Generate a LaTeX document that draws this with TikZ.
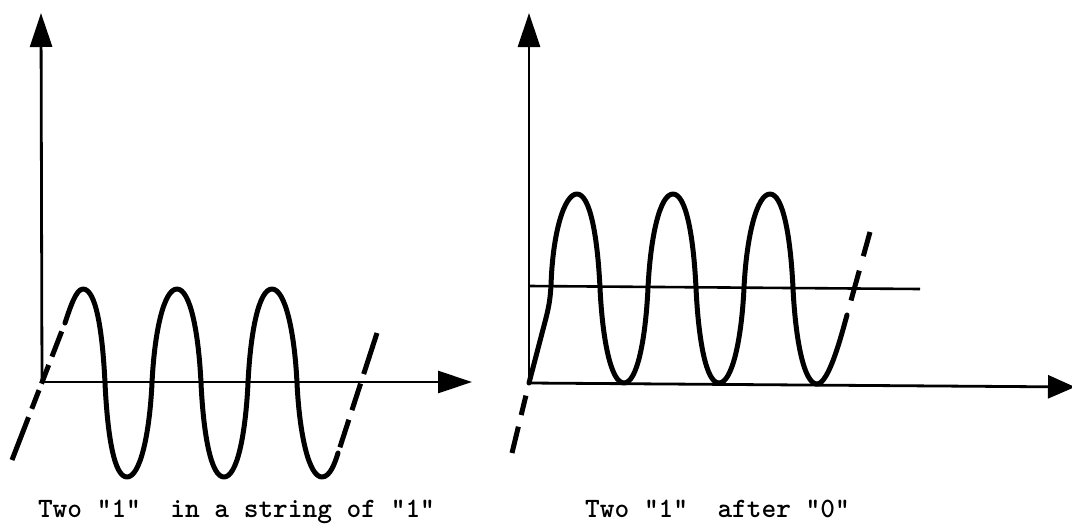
\documentclass[tikz,border=0pt]{standalone}
\usetikzlibrary{arrows.meta}
\begin{document}
\begin{tikzpicture}[x=1pt,y=-1pt,
  axis/.style={line width=2.8pt,-{Triangle[length=34pt,width=22pt]}},
  axisr/.style={line width=2.8pt,-{Triangle[length=27pt,width=23pt]}},
  plain/.style={line width=2.6pt},
  wave/.style={line width=5pt,line cap=round,line join=round},
  ext/.style={line width=5pt},
  lbl/.style={font=\fontsize{28}{30}\selectfont\ttfamily\bfseries,anchor=base,inner sep=0pt}]
\clip (0,0) rectangle (1072,528);
\fill[white] (0,0) rectangle (1072,528);
% ---------- left panel ----------
\coordinate (O1) at (42,382);
\coordinate (Y1) at (41,13);
\coordinate (X1) at (472,382);
\draw[axis] (O1) -- (Y1);
\draw[axis] (O1) -- (X1);
\draw[wave] (65,323) .. controls (70,308) and (76,289) .. (83,289)
  .. controls +(13,0) and +(-2.5,-52) .. (105,383)
  .. controls +(2.5,52) and +(-13,0) .. (127,477)
  .. controls +(13,0) and +(-2.5,52) .. (152,383)
  .. controls +(2.5,-52) and +(-13,0) .. (177,289)
  .. controls +(13,0) and +(-2.5,-52) .. (201,383)
  .. controls +(2.5,52) and +(-13,0) .. (224,477)
  .. controls +(13,0) and +(-2.5,52) .. (248,383)
  .. controls +(2.5,-52) and +(-13,0) .. (272,289)
  .. controls +(13,0) and +(-2.5,-52) .. (297,383)
  .. controls +(2.5,52) and +(-13,0) .. (322,477)
  .. controls +(8,0) and +(-3,10) .. (338,453);
\draw[ext,dash pattern=on 27pt off 9pt on 20pt off 7pt on 20pt off 9pt on 80pt off 9pt]
  (61.7,331.4) -- (12,460);
\draw[ext,dash pattern=on 29pt off 10pt on 28pt off 10pt on 60pt off 10pt]
  (339.9,447.3) -- (377,333);
\node[lbl] (t1) at (236.5,517) {Two "1"\ \ in a string of "1"};
% ---------- right panel ----------
\coordinate (O2) at (529,383);
\coordinate (Y2) at (529,13);
\coordinate (X2) at (1075,387);
\coordinate (M1) at (529,286);
\coordinate (M2) at (920,289);
\draw[axis] (O2) -- (Y2);
\draw[axisr] (O2) -- (X2);
\draw[plain] (M1) -- (M2);
\draw[wave] (O2) -- (546,318) .. controls (549,306) and (550,300) .. (551,286)
  .. controls +(1.5,-52) and +(-13,0) .. (577,194)
  .. controls +(13,0) and +(-2.5,-52) .. (600,288)
  .. controls +(2.5,52) and +(-13,0) .. (624,383)
  .. controls +(13,0) and +(-2.5,52) .. (648,288)
  .. controls +(2.5,-52) and +(-13,0) .. (673,194)
  .. controls +(13,0) and +(-2.5,-52) .. (696,288)
  .. controls +(2.5,52) and +(-13,0) .. (719,383)
  .. controls +(13,0) and +(-2.5,52) .. (744,288)
  .. controls +(2.5,-52) and +(-13,0) .. (770,194)
  .. controls +(13,0) and +(-2.5,-52) .. (793,288)
  .. controls +(2.5,52) and +(-13,0) .. (817,384)
  .. controls +(12,0) and +(-5,18) .. (847,315);
\draw[ext,dash pattern=on 20pt off 12pt on 40pt off 12pt]
  (525.9,395.6) -- (512,453);
\draw[ext,dash pattern=on 31pt off 15pt on 40pt off 15pt]
  (851,300.5) -- (870,232);
\node[lbl] (t2) at (717.5,517) {Two "1"\ \ after "0"};
\end{tikzpicture}
\end{document}
